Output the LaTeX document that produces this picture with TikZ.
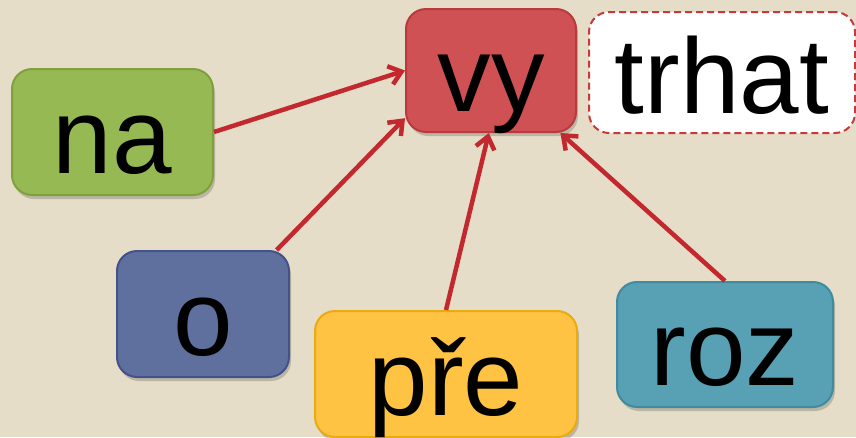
\documentclass[tikz,border=0pt]{standalone}
\usepackage{fontspec}
\setmainfont{Liberation Sans}
\usetikzlibrary{arrows.meta,shadows}
\definecolor{bg}{HTML}{E5DDC8}
\definecolor{arrowred}{HTML}{C3282E}
\definecolor{vyfill}{HTML}{D05153}
\definecolor{vydraw}{HTML}{B83A3D}
\definecolor{nafill}{HTML}{97B954}
\definecolor{nadraw}{HTML}{7FA03D}
\definecolor{ofill}{HTML}{60709E}
\definecolor{odraw}{HTML}{43528A}
\definecolor{prefill}{HTML}{FEC343}
\definecolor{predraw}{HTML}{EBAA10}
\definecolor{rozfill}{HTML}{58A0B4}
\definecolor{rozdraw}{HTML}{3F8BA0}
\definecolor{dashred}{HTML}{C83A3A}
\begin{document}
\begin{tikzpicture}[x=1pt,y=-1pt,
  box/.style={draw, line width=2pt, rounded corners=20pt, inner sep=0pt,
    text height=90pt, text depth=8pt, align=center,
    font=\fontsize{107}{107}\selectfont,
    drop shadow={shadow xshift=2pt, shadow yshift=-4pt, opacity=0.18, fill=black}},
  wordbox/.style={draw=dashred, fill=white, dash pattern=on 7pt off 4pt, line width=2pt, rounded corners=20pt, inner sep=0pt,
    text height=90pt, text depth=8pt, font=\fontsize{107}{107}\selectfont},
  link/.style={draw=arrowred, line width=4.5pt, -{Straight Barb[length=12pt,width=19pt]}}]
\fill[bg] (0,0) rectangle (856,437);
\useasboundingbox (0,0) rectangle (856,437);
\clip (0,0) rectangle (856,437);
\node[box, fill=vyfill, draw=vydraw, minimum width=170pt, minimum height=123pt] (vy) at (491,70.5) {vy};
\node[wordbox, minimum width=266pt, minimum height=121pt] (trhat) at (722,72.5) {trhat};
\node[box, fill=nafill, draw=nadraw, minimum width=201pt, minimum height=126pt] (na) at (112.5,132) {na};
\node[box, fill=ofill, draw=odraw, minimum width=172pt, minimum height=126pt] (o) at (203,314) {o};
\node[box, fill=prefill, draw=predraw, minimum width=262pt, minimum height=126pt] (pre) at (446,374) {pře};
\node[box, fill=rozfill, draw=rozdraw, minimum width=216pt, minimum height=125pt] (roz) at (725,344.5) {roz};
\draw[link] (na.east) -- (vy.west);
\draw[link] (o.41.5) -- (vy.209.2);
\draw[link] (pre.north) -- (vy.268);
\draw[link] (roz.north) -- (vy.-42);
\end{tikzpicture}
\end{document}
